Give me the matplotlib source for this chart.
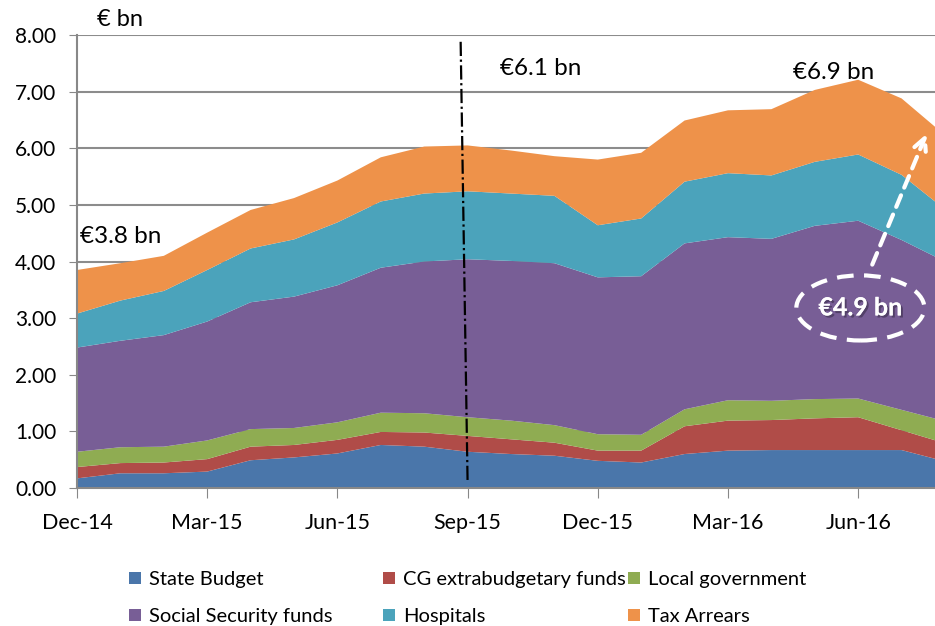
import numpy as np
import matplotlib
matplotlib.use('Agg')
import matplotlib.pyplot as plt
import matplotlib.patheffects as pe
from matplotlib.patches import Ellipse

# months Dec-14 .. Aug-16
months = ['Dec-14', 'Jan-15', 'Feb-15', 'Mar-15', 'Apr-15', 'May-15', 'Jun-15',
          'Jul-15', 'Aug-15', 'Sep-15', 'Oct-15', 'Nov-15', 'Dec-15', 'Jan-16',
          'Feb-16', 'Mar-16', 'Apr-16', 'May-16', 'Jun-16', 'Jul-16', 'Aug-16']

state_budget = [0.17, 0.26, 0.26, 0.29, 0.49, 0.54, 0.61, 0.76, 0.73, 0.64, 0.60,
                0.57, 0.48, 0.45, 0.60, 0.66, 0.67, 0.67, 0.67, 0.67, 0.47]
cg_extra = [0.20, 0.18, 0.19, 0.22, 0.24, 0.22, 0.24, 0.23, 0.25, 0.28, 0.26,
            0.23, 0.18, 0.21, 0.49, 0.53, 0.53, 0.56, 0.58, 0.35, 0.32]
local_gov = [0.27, 0.28, 0.28, 0.33, 0.31, 0.30, 0.31, 0.34, 0.34, 0.33, 0.33,
             0.31, 0.29, 0.28, 0.30, 0.36, 0.34, 0.34, 0.33, 0.36, 0.39]
social_sec = [1.84, 1.88, 1.97, 2.10, 2.24, 2.32, 2.42, 2.56, 2.68, 2.79, 2.82,
              2.86, 2.77, 2.80, 2.93, 2.88, 2.86, 3.06, 3.14, 3.00, 2.82]
hospitals = [0.60, 0.71, 0.78, 0.91, 0.95, 1.01, 1.11, 1.17, 1.20, 1.20, 1.19,
             1.19, 0.92, 1.02, 1.09, 1.13, 1.12, 1.13, 1.17, 1.15, 0.92]
tax_arrears = [0.77, 0.66, 0.62, 0.66, 0.68, 0.73, 0.74, 0.78, 0.83, 0.81, 0.76,
               0.70, 1.16, 1.16, 1.08, 1.11, 1.17, 1.27, 1.32, 1.35, 1.31]

labels = ['State Budget', 'CG extrabudgetary funds', 'Local government',
          'Social Security funds', 'Hospitals', 'Tax Arrears']
colors = ['#4A76AA', '#B04C48', '#8FAC52', '#785E96', '#4BA3BB', '#EE924A']

tick_pos = [0, 3, 6, 9, 12, 15, 18]
tick_labels = [months[i] for i in tick_pos]

plt.rcParams['font.family'] = ['Lato', 'DejaVu Sans']

fig = plt.figure(figsize=(9.35, 6.26), dpi=100)
ax = fig.add_axes([77 / 935, 1 - 488 / 626, 1 - 77 / 935, (488 - 35) / 626])

x = np.arange(len(months))
polys = ax.stackplot(x, state_budget, cg_extra, local_gov, social_sec,
                     hospitals, tax_arrears, colors=colors, labels=labels,
                     linewidth=0, zorder=2)

ax.set_ylim(0, 8)
ax.set_xlim(0, 19.77)
ax.set_yticks(np.arange(0, 9, 1))
ax.set_yticklabels(['{:.2f}'.format(v) for v in np.arange(0, 9, 1)], fontsize=15)
ax.set_xticks(tick_pos)
ax.set_xticklabels(tick_labels, fontsize=15.5)
ax.tick_params(axis='x', length=7, color='#888888', pad=11)
ax.tick_params(axis='y', length=6, color='#888888', pad=9)
ax.yaxis.grid(True, color='#8c8c8c', linewidth=1.5, zorder=1)
ax.set_axisbelow(True)
for s in ['top', 'right']:
    ax.spines[s].set_visible(False)
for s in ['left', 'bottom']:
    ax.spines[s].set_color('#888888')
    ax.spines[s].set_linewidth(1.5)

# Sep-15 marker
ax.plot([8.84, 9.0], [7.88, 0.1], color='black', linestyle='-.', linewidth=1.6, zorder=4)

# annotations
ax.text(0.07, 4.45, '€3.8 bn', fontsize=17.5, ha='left', va='center')
ax.text(9.75, 7.4, '€6.1 bn', fontsize=17.5, ha='left', va='center')
ax.text(16.5, 7.33, '€6.9 bn', fontsize=17.5, ha='left', va='center')
fig.text(97 / 935, 1 - 20 / 626, '€ bn', fontsize=17, ha='left', va='center')

ax.add_patch(Ellipse((18.05, 3.18), 2.95, 1.15, fill=False, edgecolor='white',
                     linewidth=3, linestyle=(0, (4, 2.5)), zorder=5))
ax.text(18.05, 3.18, '€4.9 bn', fontsize=18, fontweight='bold', color='white',
        ha='center', va='center', zorder=5,
        path_effects=[pe.withSimplePatchShadow(offset=(1.5, -1.5), shadow_rgbFace='#3a2c4a', alpha=0.6),
                      pe.Normal()])
ax.annotate('', xy=(19.6, 6.3), xytext=(18.3, 3.9),
            arrowprops=dict(arrowstyle='->', color='white', linewidth=3,
                            linestyle=(0, (3, 2)), mutation_scale=22), zorder=5)

# legend in three columns
cols = [(0, 3), (1, 4), (2, 5)]
xs = [129 / 935, 383 / 935, 628 / 935]
for (a, b), lx in zip(cols, xs):
    lg = fig.legend([polys[a], polys[b]], [labels[a], labels[b]],
                    loc='upper left', bbox_to_anchor=(lx, 1 - 571 / 626),
                    frameon=False, fontsize=14.5, handlelength=0.6,
                    handleheight=0.6, handletextpad=0.4, labelspacing=1.0,
                    borderpad=0, borderaxespad=0)

fig.savefig('out.png', dpi=100)
